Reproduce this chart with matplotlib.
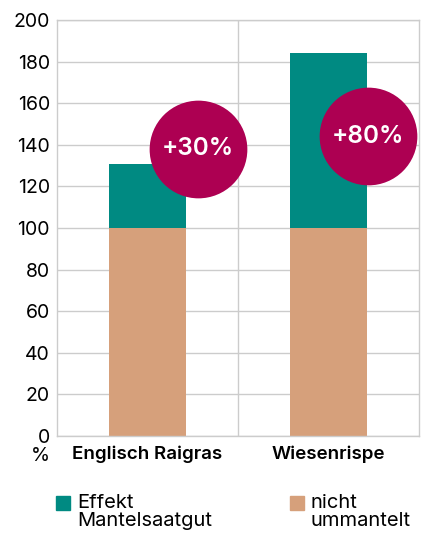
import numpy as np
import matplotlib
matplotlib.use("Agg")
import matplotlib.pyplot as plt
from matplotlib.patches import Rectangle

plt.rcParams['font.family'] = ['Inter', 'DejaVu Sans']

# data
categories = ["Englisch Raigras", "Wiesenrispe"]
nicht_ummantelt = [100, 100]
effekt = [31, 84]
badge_labels = ["+30%", "+80%"]
badge_x = [0.28, 1.22]
badge_y = [138, 144]
yticks = [0, 20, 40, 60, 80, 100, 120, 140, 160, 180, 200]

teal = "#008A82"
tan = "#D6A07B"
magenta = "#AD0052"
grid = "#CCCCCC"

fig = plt.figure(figsize=(4.21, 5.33), dpi=100)
ax = fig.add_axes([57 / 421, 97 / 533, 362 / 421, 416 / 533])

x = np.arange(len(categories))
ax.bar(x, nicht_ummantelt, width=0.42, color=tan, zorder=2)
ax.bar(x, effekt, width=0.42, bottom=nicht_ummantelt, color=teal, zorder=2)

# badges with the percentage gain
ax.scatter(badge_x, badge_y, s=4950, color=magenta, linewidths=0, zorder=3, clip_on=False)
for xi, yi, lab in zip(badge_x, badge_y, badge_labels):
    ax.text(xi, yi, lab, color="white", fontsize=17.5, fontweight="semibold",
            ha="center", va="center", zorder=4)

ax.set_xlim(-0.5, 1.5)
ax.set_ylim(0, 200)
ax.set_yticks(yticks)
ax.set_xticks(x)
ax.set_xticklabels(categories, fontsize=13.5, fontweight="semibold")
ax.tick_params(axis="y", labelsize=14, length=0, pad=5)
ax.tick_params(axis="x", length=0, pad=7)
ax.yaxis.grid(True, color=grid, linewidth=1, zorder=0)
ax.axvline(0.5, color=grid, linewidth=1, zorder=0)
for s in ax.spines.values():
    s.set_color(grid)
    s.set_linewidth(1)
ax.set_axisbelow(True)

fig.text(40 / 421, 1 - 456 / 533, "%", fontsize=14, ha="center", va="center")

# legend drawn by hand so the square lines up with the first text line
legend_items = [("Effekt\nMantelsaatgut", teal, 56), ("nicht\nummantelt", tan, 290)]
for lab, col, px in legend_items:
    fig.patches.append(Rectangle((px / 421, 1 - 510 / 533), 14 / 421, 14 / 533,
                                 transform=fig.transFigure, color=col))
    fig.text((px + 21) / 421, 1 - 494 / 533, lab, fontsize=14.5, ha="left", va="top",
             linespacing=1.0)

fig.savefig("out.png", dpi=100)
